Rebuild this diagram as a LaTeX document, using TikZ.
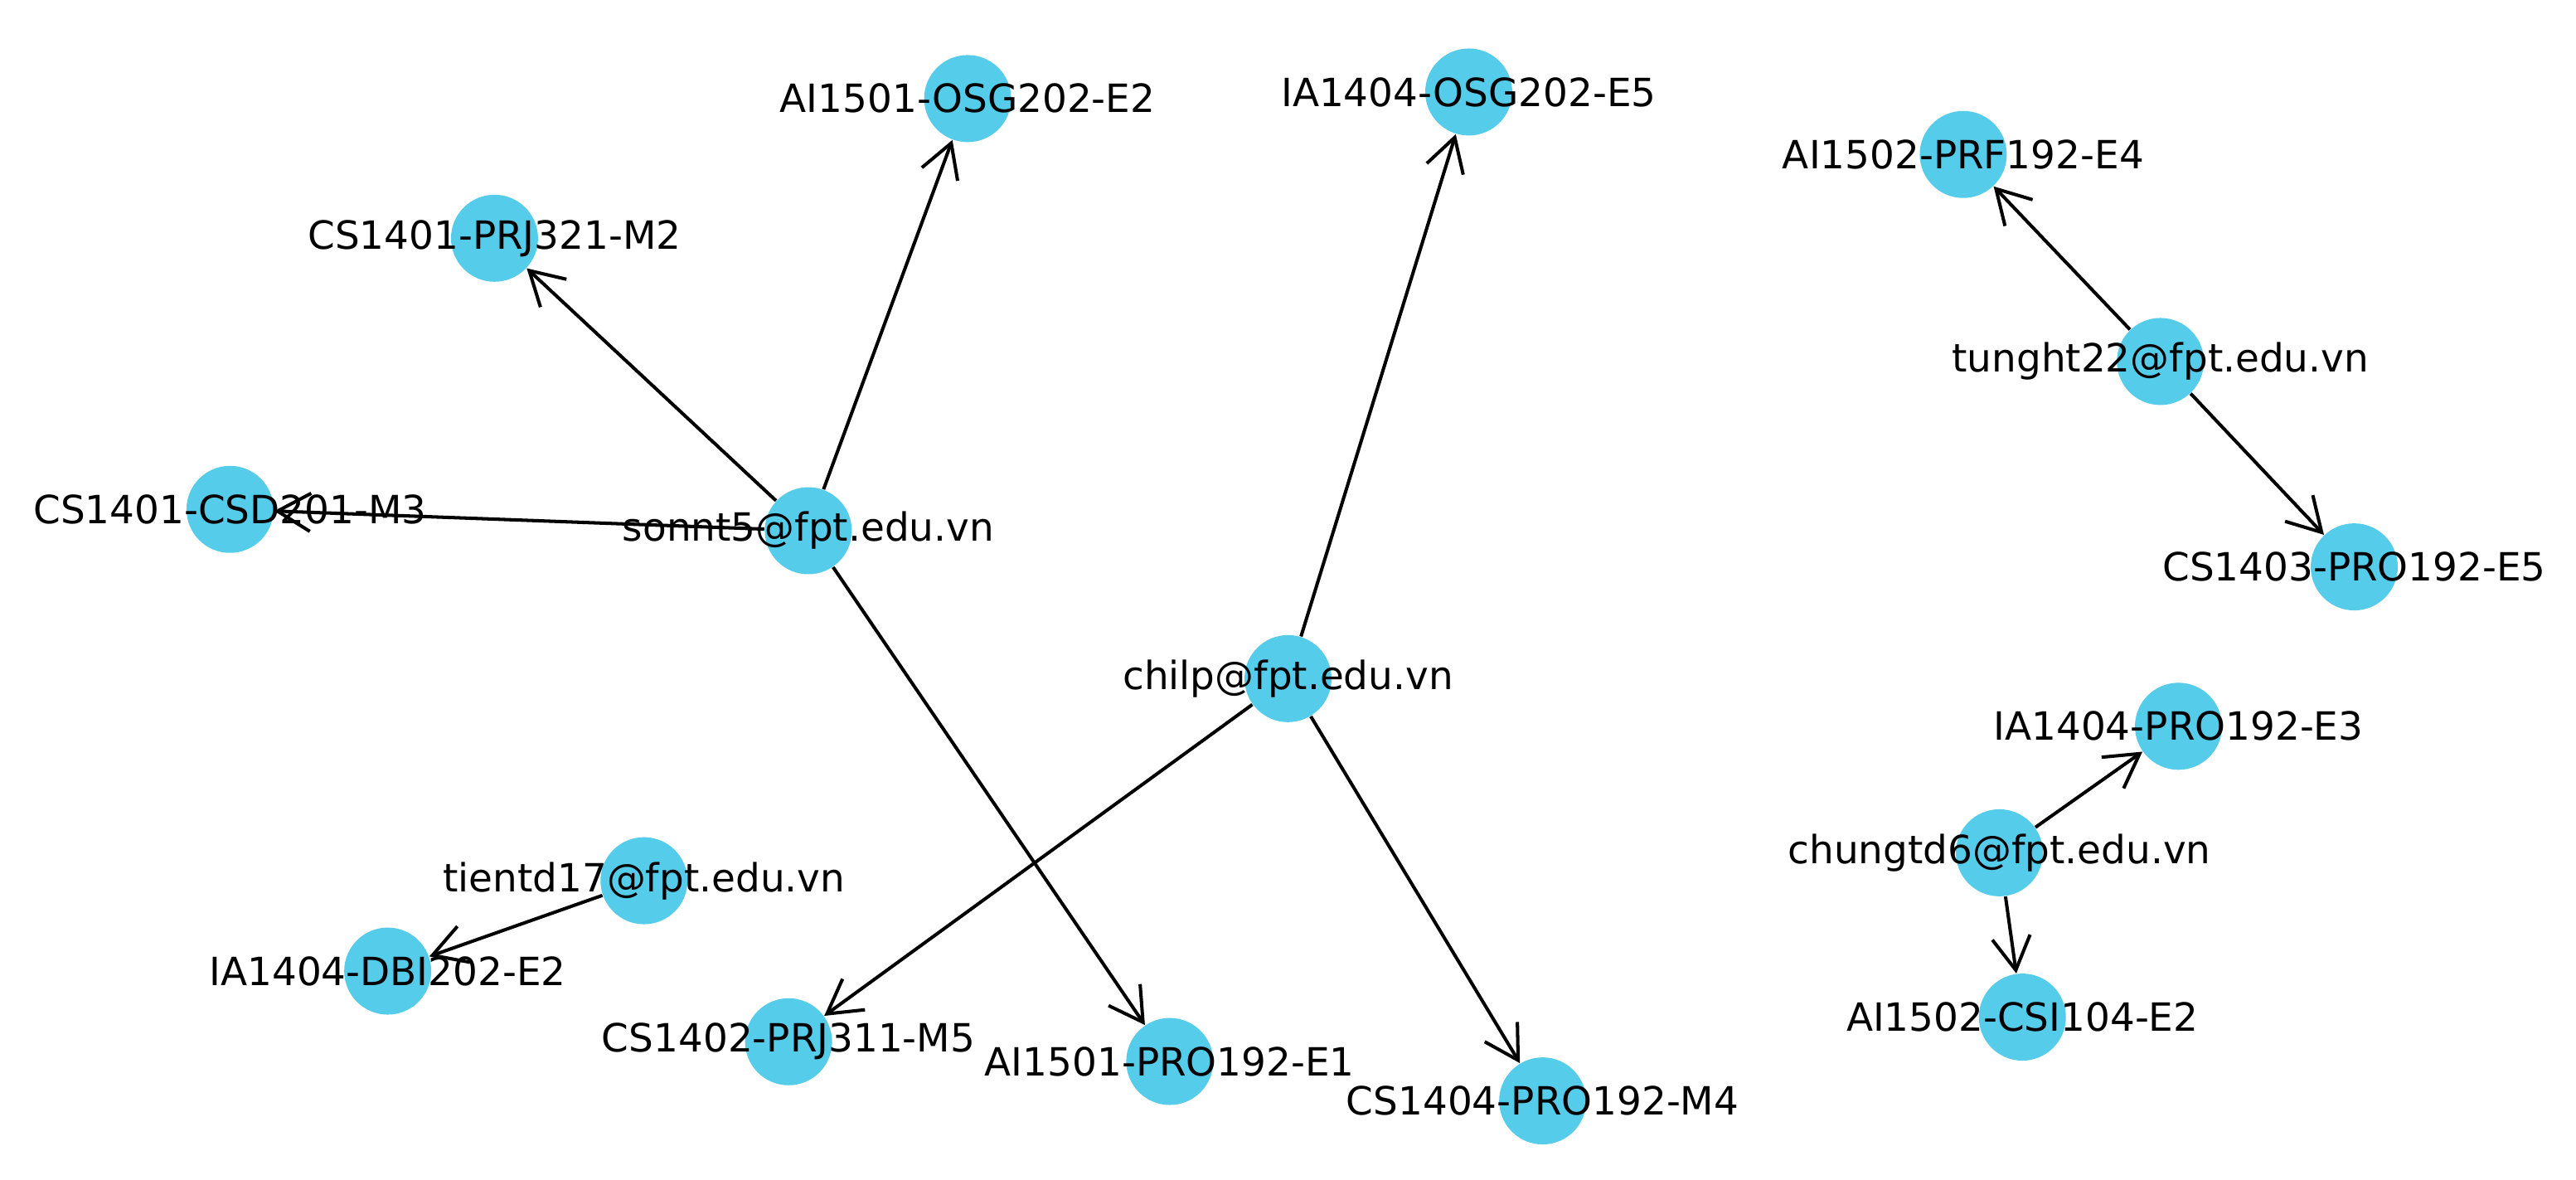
\documentclass[tikz,border=0pt]{standalone}
\usepackage{fontspec}
\setmainfont{DejaVu Sans}
\usetikzlibrary{arrows.meta,shapes.geometric}
\pgfdeclarelayer{bg}
\pgfsetlayers{bg,main}
\definecolor{nodecol}{RGB}{86,204,235}
\tikzset{
  vtx/.style={circle,fill=nodecol,draw=none,minimum size=1.05cm,inner sep=0pt},
  lbl/.style={font=\fontsize{13.35}{16}\selectfont,inner sep=0pt,text=black},
  arr/.style={-{Straight Barb[length=0.4cm,width=0.46cm]},line width=1.15pt,black}
}
\begin{document}
\begin{tikzpicture}[x=0.019815cm,y=-0.019815cm]
\useasboundingbox (0,0) rectangle (1568,718);
\node[vtx,label={[lbl]center:AI1501-OSG202-E2}] (a1) at (589,60) {};
\node[vtx,label={[lbl]center:IA1404-OSG202-E5}] (a2) at (894,56) {};
\node[vtx,label={[lbl]center:AI1502-PRF192-E4}] (a3) at (1195,94) {};
\node[vtx,label={[lbl]center:CS1401-PRJ321-M2}] (a4) at (301,145) {};
\node[vtx,label={[lbl]center:tunght22@fpt.edu.vn}] (tu) at (1315,220) {};
\node[vtx,label={[lbl]center:CS1401-CSD201-M3}] (a5) at (140,310) {};
\node[vtx,label={[lbl]center:sonnt5@fpt.edu.vn}] (so) at (492,323) {};
\node[vtx,label={[lbl]center:CS1403-PRO192-E5}] (a6) at (1433,345) {};
\node[vtx,label={[lbl]center:chilp@fpt.edu.vn}] (ch) at (784,413) {};
\node[vtx,label={[lbl]center:IA1404-PRO192-E3}] (a7) at (1326,442) {};
\node[vtx,label={[lbl]center:chungtd6@fpt.edu.vn}] (cu) at (1217,519) {};
\node[vtx,label={[lbl]center:tientd17@fpt.edu.vn}] (ti) at (392,536) {};
\node[vtx,label={[lbl]center:IA1404-DBI202-E2}] (a8) at (236,591) {};
\node[vtx,label={[lbl]center:CS1402-PRJ311-M5}] (a9) at (480,634) {};
\node[vtx,label={[lbl]center:AI1501-PRO192-E1}] (b1) at (712,646) {};
\node[vtx,label={[lbl]center:CS1404-PRO192-M4}] (b2) at (939,670) {};
\node[vtx,label={[lbl]center:AI1502-CSI104-E2}] (b3) at (1231,619) {};
\begin{pgfonlayer}{bg}
\draw[arr] (so) -- (a1);
\draw[arr] (so) -- (a4);
\draw[arr] (so) -- (a5);
\draw[arr] (so) -- (b1);
\draw[arr] (ch) -- (a2);
\draw[arr] (ch) -- (a9);
\draw[arr] (ch) -- (b2);
\draw[arr] (tu) -- (a3);
\draw[arr] (tu) -- (a6);
\draw[arr] (cu) -- (a7);
\draw[arr] (cu) -- (b3);
\draw[arr] (ti) -- (a8);
\end{pgfonlayer}
\end{tikzpicture}
\end{document}
